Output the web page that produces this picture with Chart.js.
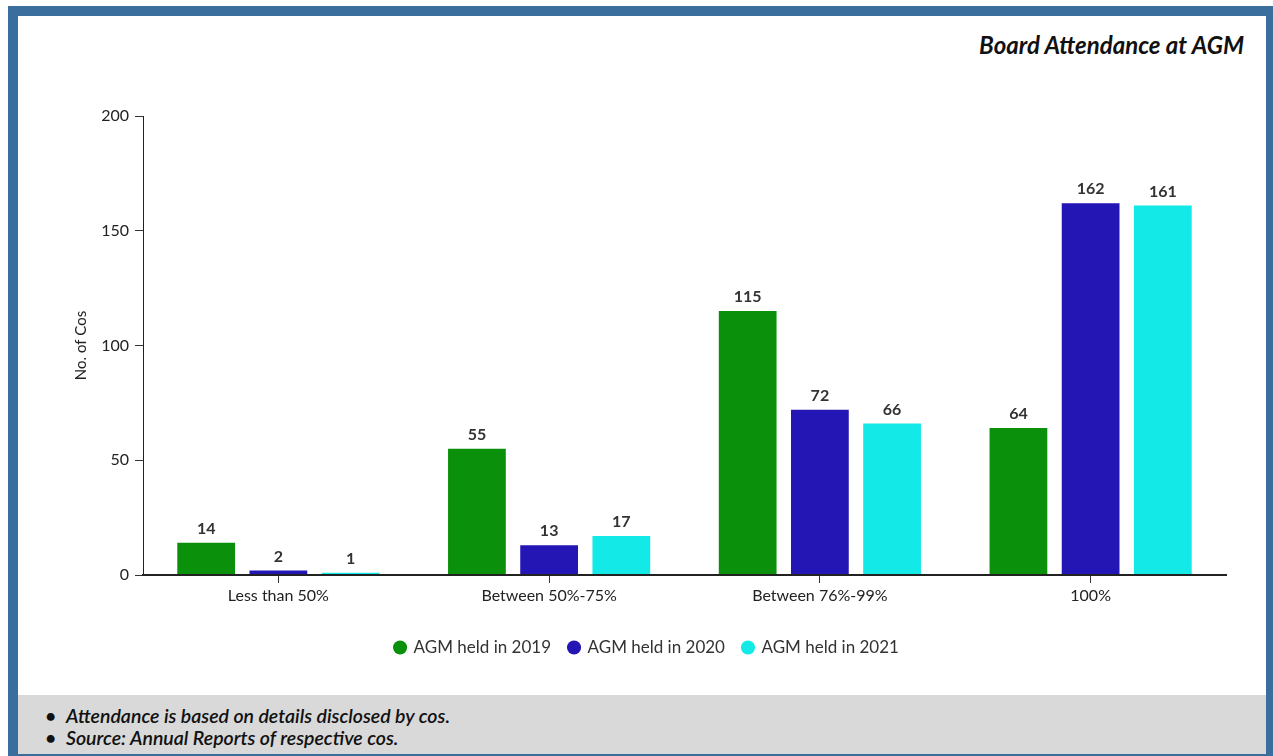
<!DOCTYPE html>
<html>
<head>
<meta charset="utf-8">
<script src="https://cdn.jsdelivr.net/npm/chart.js@4.4.0/dist/chart.umd.min.js"></script>
<style>
  html, body { margin: 0; padding: 0; background: #fff; width: 1273px; height: 756px; overflow: hidden; font-family: Lato, sans-serif; }
  #frame { position: absolute; left: 8px; top: 6px; width: 1248px; height: 738px; border: 10px solid #3a6e9d; background: #fff; }
  #title { position: absolute; right: 29px; top: 30px; font: italic bold 24px Lato, sans-serif; color: #111; }
  #wrap { position: absolute; left: 18px; top: 16px; width: 1248px; height: 679px; }
  #notes { position: absolute; left: 18px; top: 695px; width: 1248px; height: 59px; background: #d9d9d9; }
  #notes ul { margin: 0; padding: 10px 0 0 27px; list-style: none; font: italic 600 19.5px Lato, sans-serif; color: #111; }
  #notes li { line-height: 22px; position: relative; }
  #notes li::before { content: "\2022"; position: absolute; left: 0; font-style: normal; }
  #notes li span { margin-left: 21px; }
</style>
</head>
<body>
<div id="frame"></div>
<div id="title">Board Attendance at AGM</div>
<div id="wrap"><canvas id="attendanceChart" width="1248" height="679"></canvas></div>
<div id="notes">
  <ul>
    <li><span>Attendance is based on details disclosed by cos.</span></li>
    <li><span>Source: Annual Reports of respective cos.</span></li>
  </ul>
</div>
<script>
const categories = ["Less than 50%", "Between 50%-75%", "Between 76%-99%", "100%"];
const agm2019 = [14, 55, 115, 64];
const agm2020 = [2, 13, 72, 162];
const agm2021 = [1, 17, 66, 161];
const seriesNames = ["AGM held in 2019", "AGM held in 2020", "AGM held in 2021"];
const seriesColors = ["#0b900b", "#2415b5", "#13e9e6"];

// writes the value above every bar
const barValues = {
  id: "barValues",
  afterDraw(chart) {
    const ctx = chart.ctx;
    ctx.save();
    ctx.font = "bold 16px Lato, sans-serif";
    ctx.fillStyle = "#333";
    ctx.textAlign = "center";
    ctx.textBaseline = "bottom";
    chart.data.datasets.forEach((ds, i) => {
      chart.getDatasetMeta(i).data.forEach((bar, j) => {
        ctx.fillText(ds.data[j], bar.x, bar.y - 6);
      });
    });
    ctx.restore();
  }
};

const data = {
  labels: categories,
  datasets: [agm2019, agm2020, agm2021].map((vals, i) => ({
    label: seriesNames[i],
    data: vals,
    backgroundColor: seriesColors[i],
    borderWidth: 0,
    barPercentage: 0.8,
    categoryPercentage: 0.8
  }))
};

const options = {
  responsive: false,
  animation: false,
  layout: { padding: { top: 100, right: 40, bottom: 29, left: 50 } },
  plugins: {
    legend: {
      position: "bottom",
      labels: {
        usePointStyle: true,
        pointStyle: "circle",
        boxWidth: 10,
        boxHeight: 10,
        padding: 18,
        color: "#333",
        font: { family: "Lato", size: 17 }
      }
    },
    tooltip: { enabled: false }
  },
  scales: {
    x: {
      grid: { display: true, offset: false, drawOnChartArea: false, drawTicks: true, tickLength: 8, color: "#333", tickColor: "#333" },
      border: { display: true, color: "#222", width: 2, z: 1 },
      ticks: { color: "#222", padding: 3, font: { family: "Lato", size: 16 } },
      afterFit: s => { s.height = 46; }
    },
    y: {
      min: 0,
      max: 200,
      ticks: { stepSize: 50, color: "#222", padding: 6, font: { family: "Lato", size: 16 } },
      grid: { display: true, drawOnChartArea: false, drawTicks: true, tickLength: 8, color: "#333" },
      border: { display: true, color: "#222", width: 1 },
      title: { display: true, text: "No. of Cos", color: "#222", font: { family: "Lato", size: 15 } },
      afterFit: s => { s.width = 75; }
    }
  }
};

new Chart("attendanceChart", { type: "bar", data, options, plugins: [barValues] });
</script>
</body>
</html>
